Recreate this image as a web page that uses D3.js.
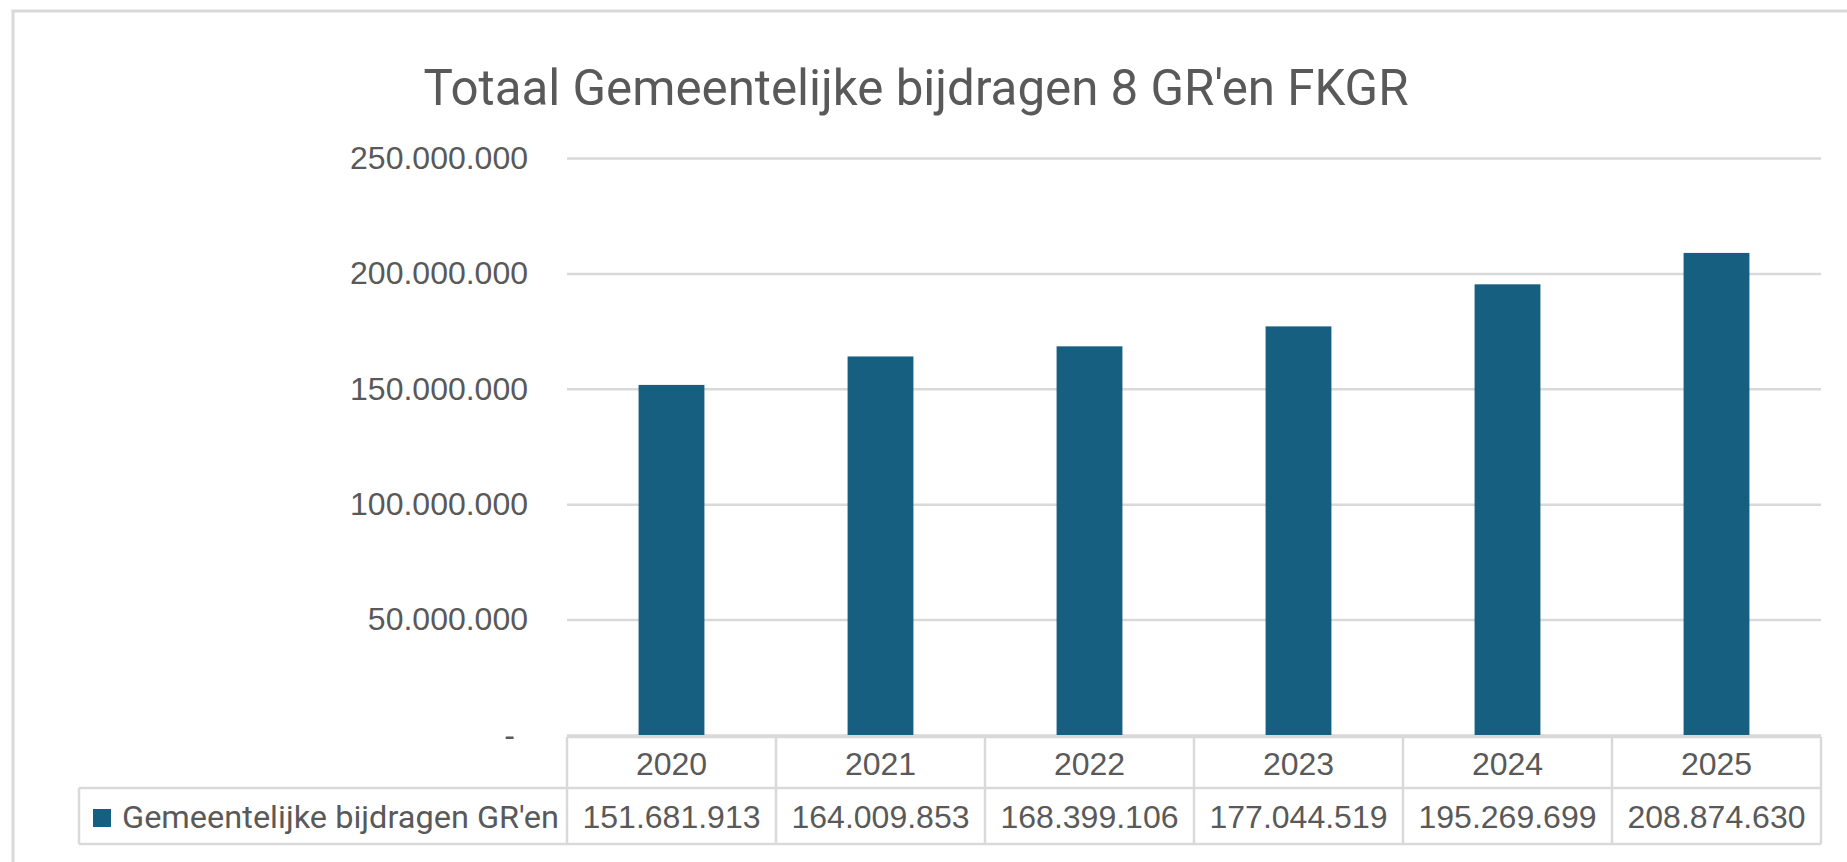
<!DOCTYPE html>
<html>
<head>
<meta charset="utf-8">
<script src="https://cdn.jsdelivr.net/npm/d3@7"></script>
<style>
  body { margin: 0; background: #fff; }
  text { fill: #595959; }
</style>
</head>
<body>
<script>
// chart data
var years = ["2020", "2021", "2022", "2023", "2024", "2025"];
var values = [151681913, 164009853, 168399106, 177044519, 195269699, 208874630];
var seriesName = "Gemeentelijke bijdragen GR'en";
var title = "Totaal Gemeentelijke bijdragen 8 GR'en FKGR";
var yTicks = [0, 50000000, 100000000, 150000000, 200000000, 250000000];

var W = 1847, H = 862;
var barColor = "#175F81";
var lineColor = "#D9D9D9";
var numFont = "'Liberation Sans', Arial, sans-serif";
var txtFont = "Roboto, 'Noto Sans', sans-serif";

var nl = d3.formatLocale({decimal: ",", thousands: ".", grouping: [3], currency: ["€", ""]});
var fmt = nl.format(",.0f");

var svg = d3.select("body").append("svg")
    .attr("width", W)
    .attr("height", H);

// chart area border (only top and left are in view)
svg.append("rect")
    .attr("x", 13).attr("y", 11)
    .attr("width", W + 20).attr("height", H + 20)
    .attr("fill", "none")
    .attr("stroke", lineColor)
    .attr("stroke-width", 3);

var plot = {left: 567, right: 1821, top: 158, bottom: 735};

var x = d3.scaleBand()
    .domain(years)
    .range([plot.left, plot.right])
    .padding(0);

var y = d3.scaleLinear()
    .domain([0, 250000000])
    .range([plot.bottom, plot.top]);

// title
svg.append("text")
    .attr("x", 916)
    .attr("y", 105)
    .attr("text-anchor", "middle")
    .attr("textLength", 985)
    .attr("lengthAdjust", "spacingAndGlyphs")
    .style("font-family", txtFont)
    .style("font-size", "50px")
    .text(title);

// y axis + gridlines
var yAxis = d3.axisLeft(y)
    .tickValues(yTicks)
    .tickSize(-(plot.right - plot.left))
    .tickPadding(39)
    .tickFormat(function(d) { return d === 0 ? "-" : fmt(d); });

var gy = svg.append("g")
    .attr("transform", "translate(" + plot.left + ",0)")
    .call(yAxis);
gy.select(".domain").remove();
gy.selectAll(".tick line")
    .attr("stroke", lineColor)
    .attr("stroke-width", 2.5);
gy.selectAll(".tick text")
    .style("font-family", numFont)
    .style("font-size", "32px")
    .attr("fill", "#595959")
    .attr("dx", function(d) { return d === 0 ? -13 : 0; });

// bars
var barW = x.bandwidth() * 0.315;
svg.selectAll(".bar")
    .data(values)
    .enter().append("rect")
    .attr("class", "bar")
    .attr("x", function(d, i) { return x(years[i]) + (x.bandwidth() - barW) / 2; })
    .attr("y", function(d) { return y(d); })
    .attr("width", barW)
    .attr("height", function(d) { return y(0) - y(d); })
    .attr("fill", barColor);

// data table under the chart
var rowTop = plot.bottom + 2, rowMid = 788, rowBot = 844, tableLeft = 79;
var tbl = svg.append("g")
    .attr("stroke", lineColor)
    .attr("stroke-width", 2.5)
    .attr("fill", "none");

tbl.append("line").attr("x1", plot.left).attr("x2", plot.right).attr("y1", rowTop).attr("y2", rowTop);
tbl.append("line").attr("x1", tableLeft).attr("x2", plot.right).attr("y1", rowMid).attr("y2", rowMid);
tbl.append("line").attr("x1", tableLeft).attr("x2", plot.right).attr("y1", rowBot).attr("y2", rowBot);
tbl.append("line").attr("x1", tableLeft).attr("x2", tableLeft).attr("y1", rowMid).attr("y2", rowBot);
tbl.selectAll(".vline")
    .data(years.concat(["end"]))
    .enter().append("line")
    .attr("class", "vline")
    .attr("x1", function(d, i) { return plot.left + i * x.step(); })
    .attr("x2", function(d, i) { return plot.left + i * x.step(); })
    .attr("y1", rowTop)
    .attr("y2", rowBot);

// year labels
var xAxis = d3.axisBottom(x).tickSize(0).tickPadding(0);
var gx = svg.append("g")
    .attr("transform", "translate(0," + rowTop + ")")
    .call(xAxis);
gx.select(".domain").remove();
gx.selectAll(".tick text")
    .attr("y", 0)
    .attr("dy", 0)
    .attr("transform", "translate(0,38)")
    .attr("fill", "#595959")
    .style("font-family", numFont)
    .style("font-size", "32px");

// value row
svg.selectAll(".val")
    .data(values)
    .enter().append("text")
    .attr("class", "val")
    .attr("x", function(d, i) { return x(years[i]) + x.bandwidth() / 2; })
    .attr("y", 828)
    .attr("text-anchor", "middle")
    .style("font-family", numFont)
    .style("font-size", "32px")
    .text(function(d) { return fmt(d); });

// legend key in table
svg.append("rect")
    .attr("x", 93).attr("y", 809)
    .attr("width", 18).attr("height", 18)
    .attr("fill", barColor);
svg.append("text")
    .attr("x", 122)
    .attr("y", 828)
    .attr("textLength", 437)
    .attr("lengthAdjust", "spacingAndGlyphs")
    .style("font-family", txtFont)
    .style("font-size", "31px")
    .text(seriesName);
</script>
</body>
</html>
